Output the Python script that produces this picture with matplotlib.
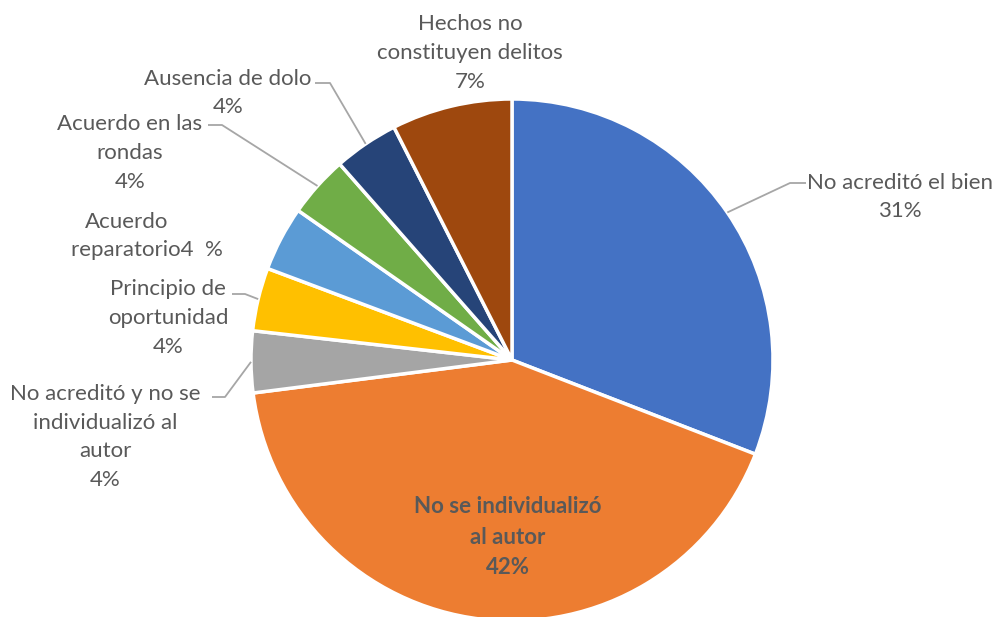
import matplotlib
matplotlib.use("Agg")
import matplotlib.pyplot as plt
import numpy as np

categories = ["No acreditó el bien", "No se individualizó\nal autor",
              "No acreditó y no se\nindividualizó al\nautor", "Principio de\noportunidad",
              "Acuerdo\nreparatorio", "Acuerdo en las\nrondas", "Ausencia de dolo",
              "Hechos no\nconstituyen delitos"]
values = [30.8, 42.0, 3.8, 3.9, 4.0, 3.8, 4.0, 7.45]
colors = ["#4472C4", "#ED7D31", "#A5A5A5", "#FFC000", "#5B9BD5", "#70AD47", "#264478", "#9E480E"]

W, H, DPI = 995, 617, 100
cx, cy, R = 512, 360, 261  # pixel layout of the pie

fig = plt.figure(figsize=(W / DPI, H / DPI), dpi=DPI)
ax = fig.add_axes([0, 0, 1, 1])
wedges, _ = ax.pie(values, colors=colors, startangle=90, counterclock=False,
                   radius=1.0, wedgeprops=dict(edgecolor="white", linewidth=2.5))
ax.set_xlim(-cx / R, (W - cx) / R)
ax.set_ylim(-(H - cy) / R, cy / R)
ax.set_aspect("equal")
ax.axis("off")

def P(px, py):
    return ((px - cx) / R, (cy - py) / R)

total = sum(values)
pcts = [f"{round(v / total * 100):.0f}%" for v in values]
texts = [f"{c}\n{p}" for c, p in zip(categories, pcts)]

# label centre (px) and leader elbow (px) for each slice; None = no leader
layout = [
    ((900, 197), [(806, 183), (790, 183)]),
    ((508, 537), None),
    ((105, 437), [(212, 397), (225, 397)]),
    ((168, 318), [(232, 294), (245, 294)]),
    ((145, 236), None),
    ((130, 153), [(208, 125), (222, 125)]),
    ((228, 93), [(315, 83), (330, 83)]),
    ((470, 53), None),
]

txtcol = "#595959"
font = "Lato"
for i, (w, t, (pos, lead)) in enumerate(zip(wedges, texts, layout)):
    x, y = P(*pos)
    if i == 1:
        ax.text(x, y, t, ha="center", va="center", fontsize=16, fontweight="bold",
                color=txtcol, family=font, linespacing=1.55)
    elif i == 4:
        first, second = categories[4].split("\n")
        x1, y1 = P(127, 222)
        ax.text(x1, y1, first, ha="center", va="center", fontsize=16, color=txtcol, family=font)
        x2, y2 = P(71, 250)
        ax.text(x2, y2, second + pcts[4].replace("%", "  %"), ha="left", va="center",
                fontsize=16, color=txtcol, family=font)
    else:
        ax.text(x, y, t, ha="center", va="center", fontsize=16, color=txtcol,
                family=font, linespacing=1.55)
    if lead:
        ang = np.deg2rad((w.theta1 + w.theta2) / 2)
        ex, ey = np.cos(ang), np.sin(ang)
        (x1, y1), (x2, y2) = P(*lead[0]), P(*lead[1])
        ax.plot([x1, x2, ex], [y1, y2, ey], color="#A6A6A6", lw=1.3, solid_capstyle="butt")

fig.savefig("out.png", dpi=DPI, facecolor="white")
